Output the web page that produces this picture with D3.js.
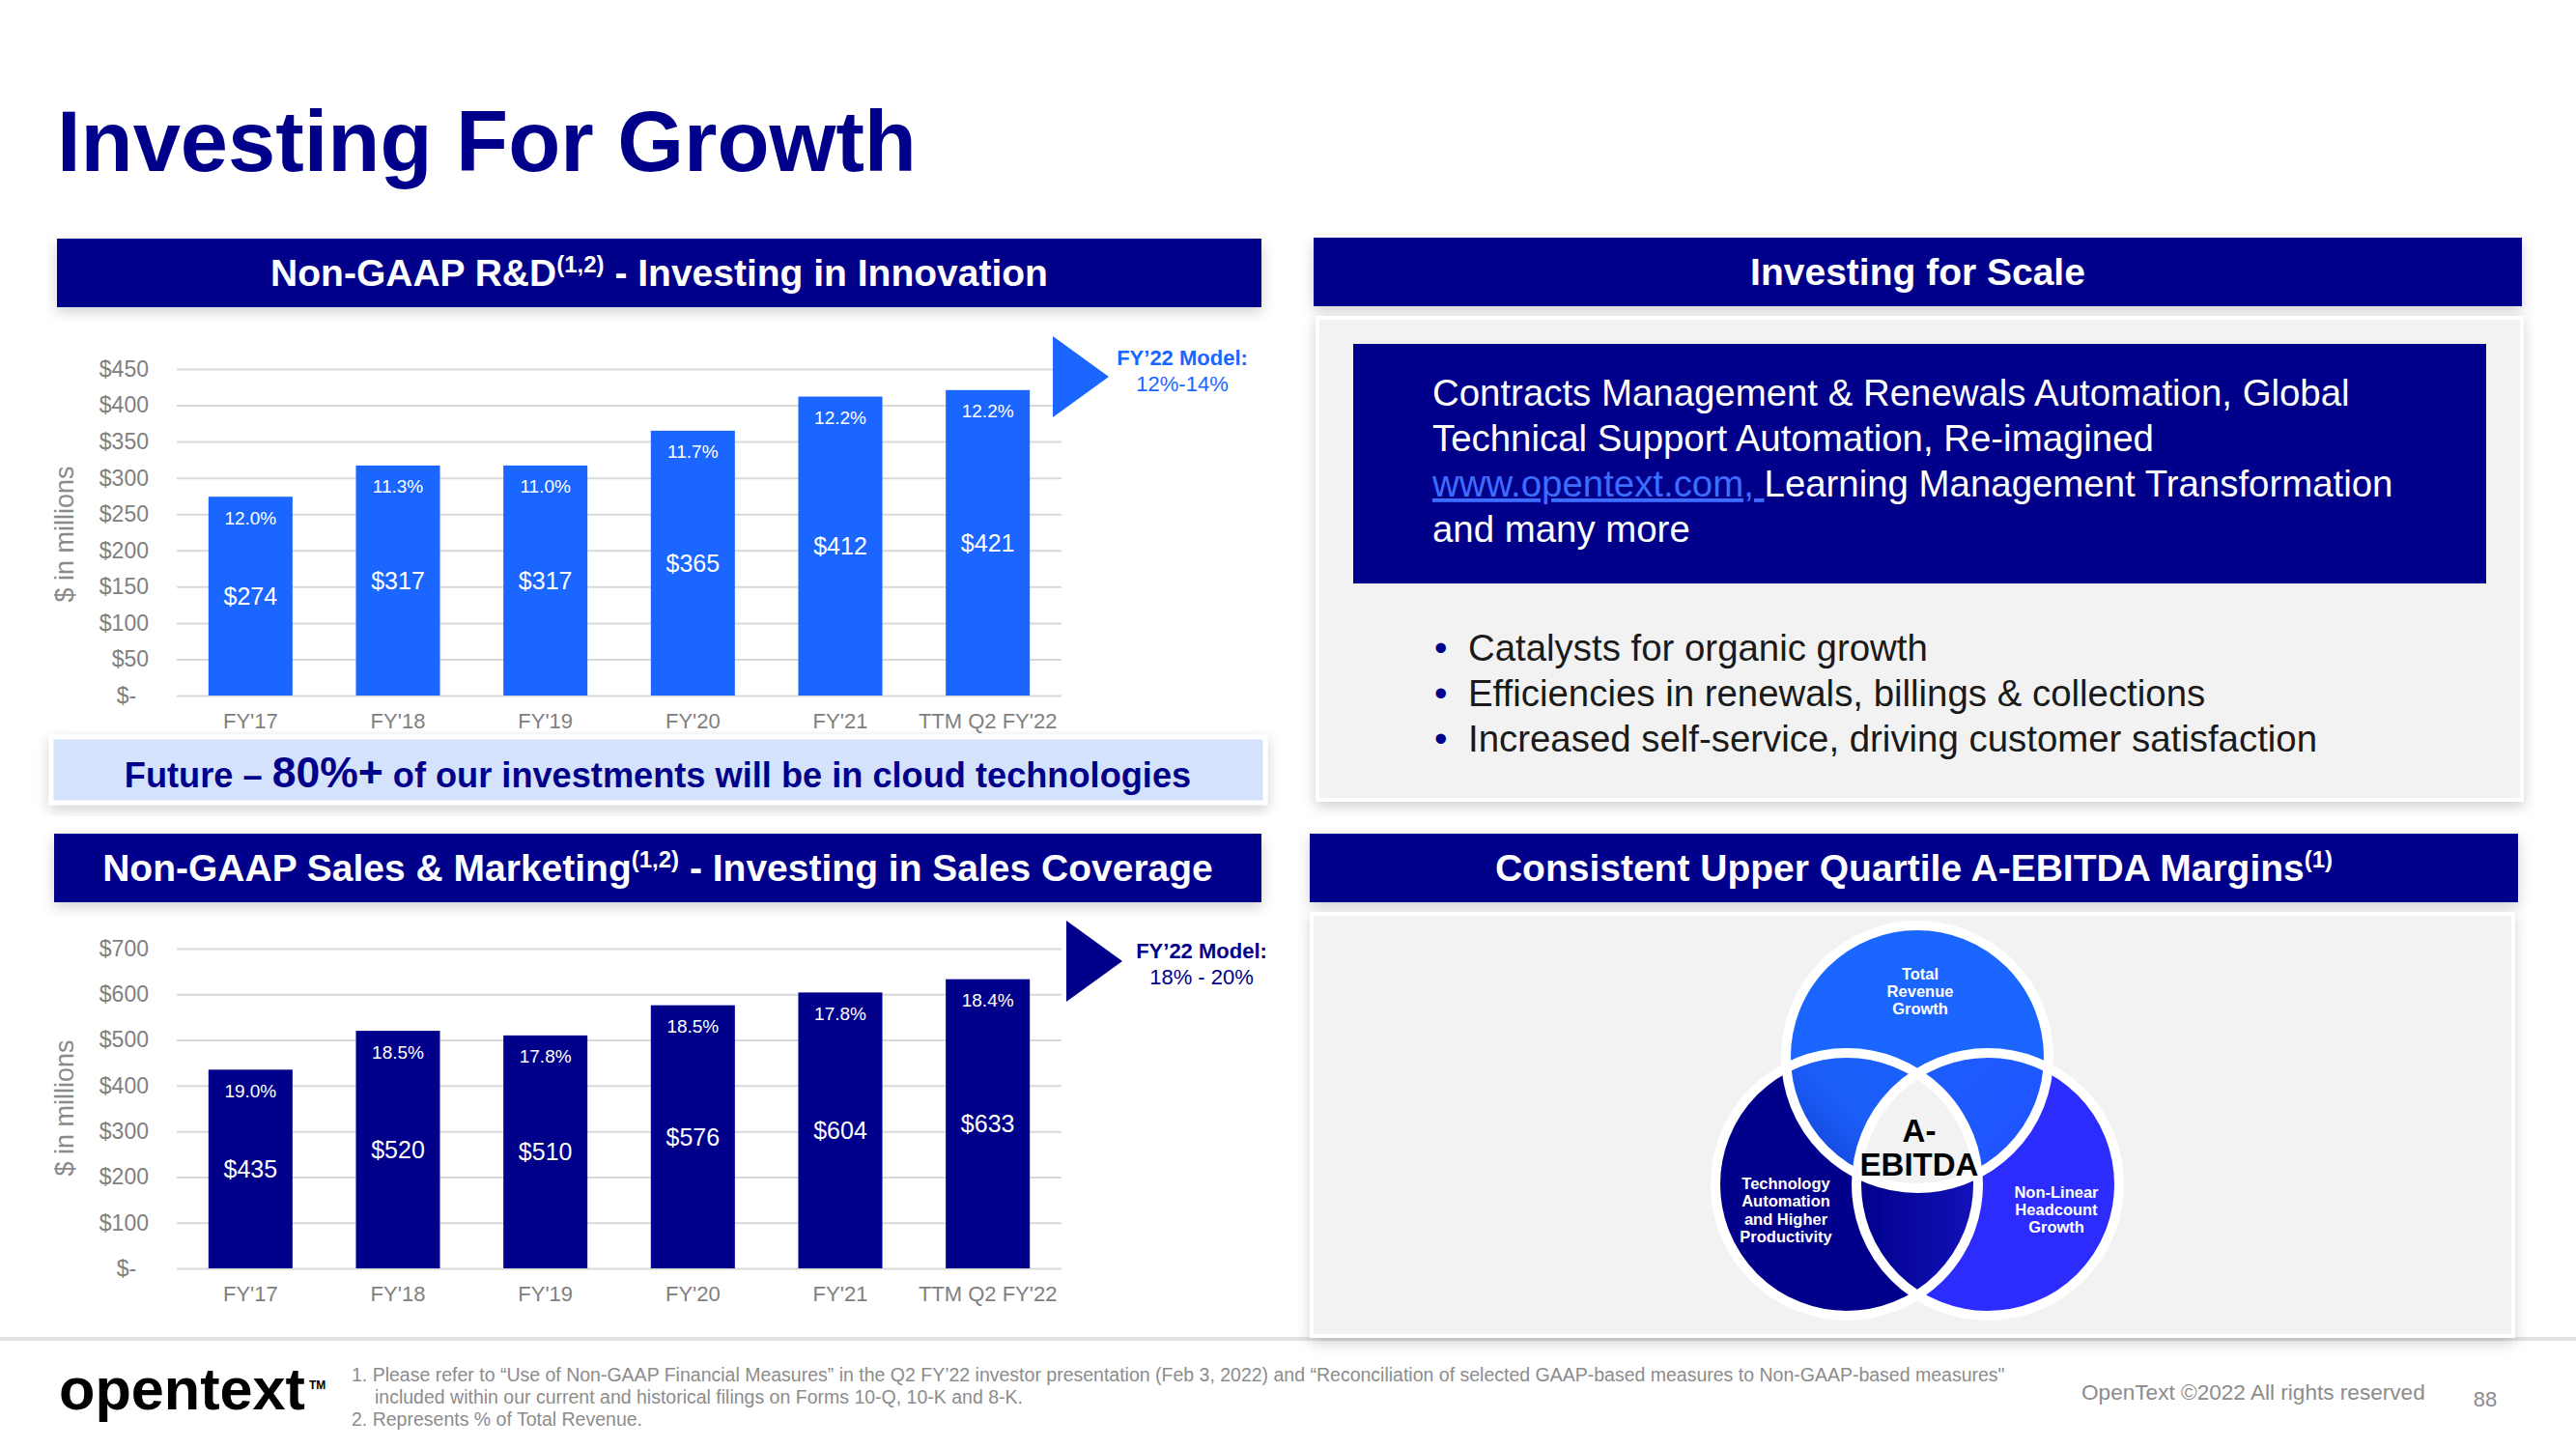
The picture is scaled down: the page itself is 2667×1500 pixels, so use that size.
<!DOCTYPE html>
<html><head><meta charset="utf-8">
<script src="https://cdn.jsdelivr.net/npm/d3@7"></script>
<style>html,body{margin:0;padding:0;background:#fff;} svg{display:block;}</style>
</head><body><svg id="c" width="2667" height="1500"></svg>
<script>
// ---------- data ----------
const categories = ["FY'17", "FY'18", "FY'19", "FY'20", "FY'21", "TTM Q2 FY'22"];
const rdValues = [274, 317, 317, 365, 412, 421];
const rdPct = ["12.0%", "11.3%", "11.0%", "11.7%", "12.2%", "12.2%"];
const rdTicks = [0, 50, 100, 150, 200, 250, 300, 350, 400, 450];
const smValues = [435, 520, 510, 576, 604, 633];
const smPct = ["19.0%", "18.5%", "17.8%", "18.5%", "17.8%", "18.4%"];
const smTicks = [0, 100, 200, 300, 400, 500, 600, 700];
const rdModel = ["FY\u201922 Model:", "12%-14%"];
const smModel = ["FY\u201922 Model:", "18% - 20%"];
const scaleLines = ["Contracts Management & Renewals Automation, Global", "Technical Support Automation, Re-imagined"];
const scaleBullets = ["Catalysts for organic growth", "Efficiencies in renewals, billings & collections", "Increased self-service, driving customer satisfaction"];
const vennTop = ["Total", "Revenue", "Growth"];
const vennLeft = ["Technology", "Automation", "and Higher", "Productivity"];
const vennRight = ["Non-Linear", "Headcount", "Growth"];
const footnotes = [
  "1. Please refer to \u201cUse of Non-GAAP Financial Measures\u201d in the Q2 FY\u201922 investor presentation (Feb 3, 2022) and \u201cReconciliation of selected GAAP-based measures to Non-GAAP-based measures\"",
  "included within our current and historical filings on Forms 10-Q, 10-K and 8-K.",
  "2. Represents % of Total Revenue."
];

// ---------- style ----------
const FONT = "'Liberation Sans', Arial, Helvetica, sans-serif";
const NAVY = "#00008a", BLUE = "#1b66ff", VIOLET = "#2c2cff", GRAY = "#808080";

const svg = d3.select("#c").attr("font-family", FONT);
svg.append("rect").attr("width", 2667).attr("height", 1500).attr("fill", "#fff");
const defs = svg.append("defs");
const f = defs.append("filter").attr("id", "sh").attr("x", "-5%").attr("y", "-10%").attr("width", "110%").attr("height", "130%");
f.append("feDropShadow").attr("dx", 0).attr("dy", 5).attr("stdDeviation", 7).attr("flood-color", "#000").attr("flood-opacity", 0.18);

// separator line
svg.append("line").attr("x1", 0).attr("x2", 2667).attr("y1", 1386).attr("y2", 1386).attr("stroke", "#e2e2e2").attr("stroke-width", 4);

// title
svg.append("text").attr("x", 59).attr("y", 177).attr("font-size", 88.5).attr("font-weight", "bold").attr("fill", NAVY).text("Investing For Growth");

// ---------- headers ----------
function header(x, y, w, h, parts) {
  svg.append("rect").attr("x", x).attr("y", y).attr("width", w).attr("height", h).attr("fill", NAVY).attr("filter", "url(#sh)");
  const t = svg.append("text").attr("x", x + w / 2).attr("y", y + h / 2 + 13).attr("text-anchor", "middle")
    .attr("font-size", 39).attr("font-weight", "bold").attr("fill", "#fff");
  let up = false;
  parts.forEach(p => {
    if (p.sup) { t.append("tspan").attr("font-size", 24).attr("dy", -14).text(p.t); up = true; }
    else { t.append("tspan").attr("font-size", 39).attr("dy", up ? 14 : 0).text(p.t); up = false; }
  });
}
header(59, 247, 1247, 71, [{t: "Non-GAAP R&D"}, {t: "(1,2)", sup: true}, {t: " - Investing in Innovation"}]);
header(56, 863, 1250, 71, [{t: "Non-GAAP Sales & Marketing"}, {t: "(1,2)", sup: true}, {t: " - Investing in Sales Coverage"}]);
header(1360, 246, 1251, 71, [{t: "Investing for Scale"}]);
header(1356, 863, 1251, 71, [{t: "Consistent Upper Quartile A-EBITDA Margins"}, {t: "(1)", sup: true}]);

// ---------- bar charts ----------
function barChart(cfg) {
  const x0 = 183, x1 = 1099;
  const x = d3.scaleBand().domain(categories).range([x0, x1]).paddingInner(0.43).paddingOuter(0.215);
  const y = d3.scaleLinear().domain([0, cfg.max]).range([cfg.yBase, cfg.yTop]);
  const g = svg.append("g");
  const ax = g.append("g").attr("transform", `translate(${x0},0)`)
    .call(d3.axisLeft(y).tickValues(cfg.ticks).tickSize(-(x1 - x0)).tickPadding(29)
      .tickFormat(d => d === 0 ? "$-\u2007" : "$" + d));
  ax.attr("font-family", FONT).attr("font-size", 23);
  ax.select(".domain").remove();
  ax.selectAll("line").attr("stroke", "#d9d9d9").attr("stroke-width", 2);
  ax.selectAll("text").attr("fill", GRAY);

  const xa = g.append("g").attr("transform", `translate(0,${cfg.yBase})`).call(d3.axisBottom(x).tickSize(0));
  xa.attr("font-family", FONT).attr("font-size", 22);
  xa.select(".domain").remove();
  xa.selectAll("text").attr("fill", GRAY).attr("y", 26).attr("dy", "0.35em");

  g.append("text").attr("transform", `translate(67,${cfg.titleY}) rotate(-90)`).attr("text-anchor", "middle")
    .attr("dominant-baseline", "central").attr("font-size", 27).attr("fill", "#8a8a8a").text("$ in millions");

  g.selectAll(".bar").data(cfg.values).join("rect").attr("class", "bar")
    .attr("x", (d, i) => x(categories[i])).attr("width", x.bandwidth())
    .attr("y", d => y(d)).attr("height", d => y(0) - y(d)).attr("fill", cfg.color);
  g.selectAll(".pct").data(cfg.pct).join("text").attr("class", "pct")
    .attr("x", (d, i) => x(categories[i]) + x.bandwidth() / 2).attr("y", (d, i) => y(cfg.values[i]) + 22)
    .attr("text-anchor", "middle").attr("dominant-baseline", "central").attr("font-size", 19).attr("fill", "#fff").text(d => d);
  g.selectAll(".val").data(cfg.values).join("text").attr("class", "val")
    .attr("x", (d, i) => x(categories[i]) + x.bandwidth() / 2).attr("y", d => (y(d) + y(0)) / 2)
    .attr("text-anchor", "middle").attr("dominant-baseline", "central").attr("font-size", 25).attr("fill", "#fff").text(d => "$" + d);

  // model arrow
  const tx = cfg.triX, ty = cfg.triY;
  g.append("path").attr("d", `M${tx},${ty - 42}L${tx + 58},${ty}L${tx},${ty + 42}Z`).attr("fill", cfg.color);
  g.append("text").attr("x", cfg.modelX).attr("y", cfg.modelY).attr("text-anchor", "middle").attr("font-size", 22)
    .attr("font-weight", "bold").attr("fill", cfg.color).text(cfg.model[0]);
  g.append("text").attr("x", cfg.modelX).attr("y", cfg.modelY + 27).attr("text-anchor", "middle").attr("font-size", 22)
    .attr("fill", cfg.color).text(cfg.model[1]);
}
barChart({values: rdValues, pct: rdPct, ticks: rdTicks, max: 450, yBase: 720, yTop: 382, color: BLUE, titleY: 553,
  triX: 1090, triY: 390, modelX: 1224, modelY: 378, model: rdModel});
barChart({values: smValues, pct: smPct, ticks: smTicks, max: 700, yBase: 1313, yTop: 982, color: NAVY, titleY: 1147,
  triX: 1104, triY: 995, modelX: 1244, modelY: 992, model: smModel});

// ---------- future box ----------
svg.append("rect").attr("x", 53).attr("y", 763).attr("width", 1257).attr("height", 68).attr("fill", "#d5e2fb")
  .attr("stroke", "#fff").attr("stroke-width", 5).attr("filter", "url(#sh)");
const ft = svg.append("text").attr("x", 681).attr("y", 815).attr("text-anchor", "middle").attr("font-weight", "bold").attr("fill", NAVY);
ft.append("tspan").attr("font-size", 36.2).text("Future \u2013 ");
ft.append("tspan").attr("font-size", 44.5).text("80%+");
ft.append("tspan").attr("font-size", 36.2).text(" of our investments will be in cloud technologies");

// ---------- right panels ----------
svg.append("rect").attr("x", 1364).attr("y", 329).attr("width", 1247).attr("height", 499).attr("fill", "#f2f2f2")
  .attr("stroke", "#fff").attr("stroke-width", 4).attr("filter", "url(#sh)");
svg.append("rect").attr("x", 1401).attr("y", 356).attr("width", 1173).attr("height", 248).attr("fill", NAVY);
scaleLines.forEach((l, i) => svg.append("text").attr("x", 1483).attr("y", 420 + i * 47).attr("font-size", 38.4).attr("fill", "#fff").text(l));
const l3 = svg.append("text").attr("x", 1483).attr("y", 514).attr("font-size", 38.4).attr("fill", "#fff");
l3.append("tspan").attr("fill", "#3d6cff").style("text-decoration", "underline").text("www.opentext.com,\u00a0");
l3.append("tspan").text("Learning Management Transformation");
svg.append("text").attr("x", 1483).attr("y", 561).attr("font-size", 38.4).attr("fill", "#fff").text("and many more");
scaleBullets.forEach((b, i) => {
  svg.append("text").attr("x", 1485).attr("y", 684 + i * 47).attr("font-size", 38.4).attr("fill", NAVY).text("\u2022");
  svg.append("text").attr("x", 1520).attr("y", 684 + i * 47).attr("font-size", 38.4).attr("fill", "#1a1a1a").text(b);
});

svg.append("rect").attr("x", 1358).attr("y", 946).attr("width", 1244).attr("height", 437).attr("fill", "#f2f2f2")
  .attr("stroke", "#fff").attr("stroke-width", 4).attr("filter", "url(#sh)");

// ---------- venn ----------
const R = 136;
const C = {top: [1985, 1094], left: [1912, 1226], right: [2058, 1226]};
Object.entries(C).forEach(([k, c]) => {
  defs.append("clipPath").attr("id", "cl-" + k).append("circle").attr("cx", c[0]).attr("cy", c[1]).attr("r", R);
});
function grad(id, x1, y1, x2, y2, stops) {
  const lg = defs.append("linearGradient").attr("id", id).attr("x1", x1).attr("y1", y1).attr("x2", x2).attr("y2", y2);
  stops.forEach(s => lg.append("stop").attr("offset", s[0]).attr("stop-color", s[1]));
}
grad("gTL", 0, 1, 1, 0, [[0, "#00008a"], [0.65, "#1b5ef8"], [1, "#1b62ff"]]);
grad("gTR", 0, 0, 1, 1, [[0, "#1b62ff"], [1, "#2445ff"]]);
grad("gB", 0, 0, 1, 0, [[0, "#00008a"], [1, "#2828f5"]]);
const vg = svg.append("g");
const circ = (g, k, fill) => g.append("circle").attr("cx", C[k][0]).attr("cy", C[k][1]).attr("r", R).attr("fill", fill);
circ(vg, "left", NAVY);
circ(vg, "right", VIOLET);
circ(vg, "top", BLUE);
circ(vg.append("g").attr("clip-path", "url(#cl-top)"), "left", "url(#gTL)");
circ(vg.append("g").attr("clip-path", "url(#cl-top)"), "right", "url(#gTR)");
circ(vg.append("g").attr("clip-path", "url(#cl-left)"), "right", "url(#gB)");
circ(vg.append("g").attr("clip-path", "url(#cl-left)").append("g").attr("clip-path", "url(#cl-right)"), "top", "#f2f2f2");
Object.keys(C).forEach(k => vg.append("circle").attr("cx", C[k][0]).attr("cy", C[k][1]).attr("r", R)
  .attr("fill", "none").attr("stroke", "#fff").attr("stroke-width", 10));
function lines(arr, cx, y0, dy, size, fill) {
  arr.forEach((l, i) => vg.append("text").attr("x", cx).attr("y", y0 + i * dy).attr("text-anchor", "middle")
    .attr("font-size", size).attr("font-weight", "bold").attr("fill", fill).text(l));
}
lines(vennTop, 1988, 1014, 18, 16.5, "#fff");
lines(vennLeft, 1849, 1231, 18.3, 16.5, "#fff");
lines(vennRight, 2129, 1240, 18, 16.5, "#fff");
lines(["A-", "EBITDA"], 1987, 1182, 35, 33, "#000");

// ---------- footer ----------
svg.append("text").attr("x", 61).attr("y", 1459).attr("font-size", 62).attr("font-weight", "bold").attr("fill", "#000")
  .attr("textLength", 255).attr("lengthAdjust", "spacingAndGlyphs").text("opentext");
svg.append("text").attr("x", 320).attr("y", 1438).attr("font-size", 12).attr("font-weight", "bold").attr("fill", "#000").text("TM");
footnotes.forEach((t, i) => svg.append("text").attr("x", i === 1 ? 388 : 364).attr("y", 1430 + i * 23)
  .attr("font-size", 19.5).attr("fill", "#8c8c8c").text(t));
svg.append("text").attr("x", 2155).attr("y", 1449).attr("font-size", 22.6).attr("fill", "#8c8c8c").text("OpenText \u00a92022 All rights reserved");
svg.append("text").attr("x", 2573).attr("y", 1456).attr("text-anchor", "middle").attr("font-size", 22).attr("fill", "#8c8c8c").text("88");
</script></body></html>
